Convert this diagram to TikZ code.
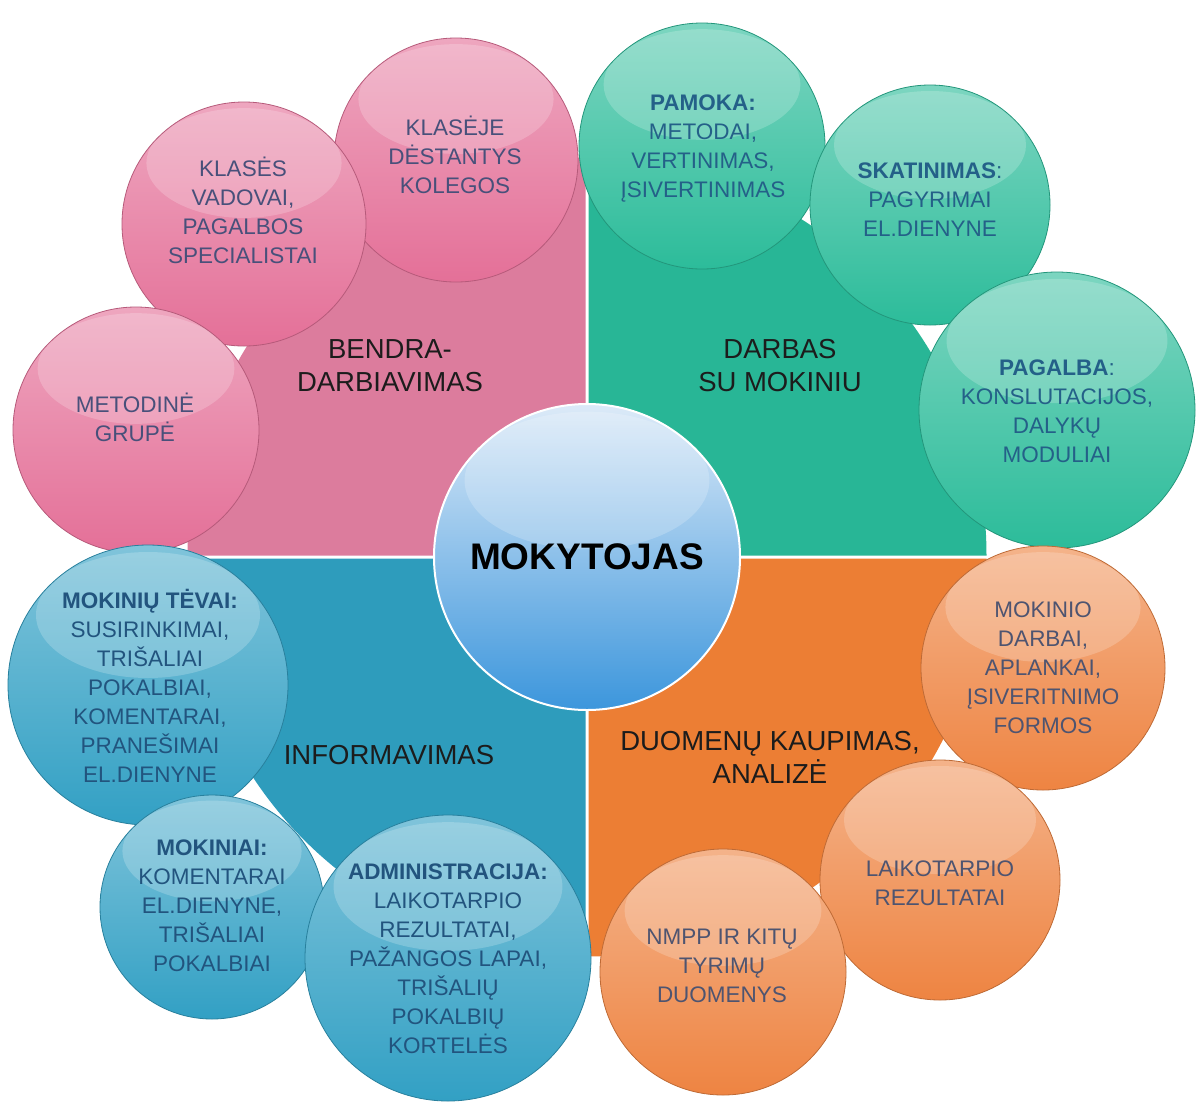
\documentclass[tikz,border=0pt]{standalone}
\usepackage{fontspec}
\setmainfont{Liberation Sans}
\definecolor{pinkq}{RGB}{220,124,157}
\definecolor{greenq}{RGB}{40,182,150}
\definecolor{tealq}{RGB}{46,156,188}
\definecolor{orangeq}{RGB}{236,126,52}
\definecolor{pinkb}{RGB}{228,112,152}
\definecolor{greenb}{RGB}{44,188,154}
\definecolor{tealb}{RGB}{50,160,196}
\definecolor{orangeb}{RGB}{238,132,66}
\definecolor{pinkt}{RGB}{72,80,122}
\definecolor{greent}{RGB}{36,96,136}
\definecolor{tealt}{RGB}{34,84,126}
\definecolor{oranget}{RGB}{78,84,112}
\definecolor{hubtop}{RGB}{220,234,248}
\definecolor{hubmid}{RGB}{112,172,228}
\definecolor{hubbot}{RGB}{60,150,220}
\definecolor{labelc}{RGB}{28,28,28}
\begin{document}
\begin{tikzpicture}[x=1pt, y=-1pt,
  gloss/.style={path picture={\fill[white, fill opacity=0.2]
    ([yshift=-0.5*#1]path picture bounding box.north) ellipse[x radius=0.8*#1, y radius=0.45*#1];}},
  ball/.style 2 args={circle, inner sep=0pt, minimum size=2*#2, draw=#1!80!black, line width=0.8pt,
    top color=#1!62!white, bottom color=#1, gloss=#2},
  txt/.style={align=center, text=#1, font=\fontsize{22.5}{29}\selectfont},
  hub/.style={circle, inner sep=0pt, minimum size=306pt, draw=white, line width=2pt,
    top color=hubtop, middle color=hubmid, bottom color=hubbot, gloss=153pt,
    font=\bfseries\fontsize{37}{40}\selectfont},
  quad/.style={align=center, text=labelc, font=\fontsize{27.5}{33}\selectfont}]
\useasboundingbox[fill=white] (0,0) rectangle (1197,1104);
\fill[pinkq] (585.5,555.5) -- ++(0,-398) arc[start angle=90, end angle=180, radius=398pt] -- cycle;
\fill[greenq] (588.5,555.5) -- ++(398,0) arc[start angle=0, end angle=90, radius=398pt] -- cycle;
\fill[tealq] (585.5,558.5) -- ++(-398,0) arc[start angle=180, end angle=270, radius=398pt] -- cycle;
\fill[orangeq] (588.5,558.5) -- ++(0,398) arc[start angle=270, end angle=360, radius=398pt] -- cycle;
\node[quad] (bendra) at (390,366) {BENDRA-\\DARBIAVIMAS};
\node[quad] (darbas) at (780,366) {DARBAS\\SU MOKINIU};
\node[quad] (inform) at (389,755) {INFORMAVIMAS};
\node[quad] (duomenu) at (770,757) {DUOMENŲ KAUPIMAS,\\ANALIZĖ};
\node[hub] (mokytojas) at (587,557) {MOKYTOJAS};
\node[ball={pinkb}{122pt}] (klaseje) at (456,160) {};
\node[txt=pinkt] (klaseje-t) at (455,155) {KLASĖJE\\DĖSTANTYS\\KOLEGOS};
\node[ball={pinkb}{122pt}] (klases) at (244,224) {};
\node[txt=pinkt] (klases-t) at (243,210) {KLASĖS\\VADOVAI,\\PAGALBOS\\SPECIALISTAI};
\node[ball={pinkb}{123pt}] (metodine) at (136,430) {};
\node[txt=pinkt] (metodine-t) at (135,417) {METODINĖ\\GRUPĖ};
\node[ball={greenb}{123pt}] (pamoka) at (702,146) {};
\node[txt=greent] (pamoka-t) at (703,148) {\textbf{PAMOKA:}\\METODAI,\\VERTINIMAS,\\ĮSIVERTINIMAS};
\node[ball={greenb}{120pt}] (skatinimas) at (930,205) {};
\node[txt=greent] (skatinimas-t) at (930,200) {\textbf{SKATINIMAS}:\\PAGYRIMAI\\EL.DIENYNE};
\node[ball={greenb}{138pt}] (pagalba) at (1057,410) {};
\node[txt=greent] (pagalba-t) at (1057,411) {\textbf{PAGALBA}:\\KONSLUTACIJOS,\\DALYKŲ\\MODULIAI};
\node[ball={orangeb}{122pt}] (darbai) at (1043,668) {};
\node[txt=oranget] (darbai-t) at (1043,668) {MOKINIO\\DARBAI,\\APLANKAI,\\ĮSIVERITNIMO\\FORMOS};
\node[ball={orangeb}{120pt}] (rezultatai) at (940,880) {};
\node[txt=oranget] (rezultatai-t) at (940,883) {LAIKOTARPIO\\REZULTATAI};
\node[ball={orangeb}{123pt}] (nmpp) at (723,972) {};
\node[txt=oranget] (nmpp-t) at (722,966) {NMPP IR KITŲ\\TYRIMŲ\\DUOMENYS};
\node[ball={tealb}{140pt}] (tevai) at (148,685) {};
\node[txt=tealt] (tevai-t) at (150,686) {\textbf{MOKINIŲ TĖVAI:}\\SUSIRINKIMAI,\\TRIŠALIAI\\POKALBIAI,\\KOMENTARAI,\\PRANEŠIMAI\\EL.DIENYNE};
\node[ball={tealb}{112pt}] (mokiniai) at (212,907) {};
\node[txt=tealt] (mokiniai-t) at (212,906) {\textbf{MOKINIAI:}\\KOMENTARAI\\EL.DIENYNE,\\TRIŠALIAI\\POKALBIAI};
\node[ball={tealb}{143pt}] (admin) at (448,958) {};
\node[txt=tealt] (admin-t) at (448,959) {\textbf{ADMINISTRACIJA:}\\LAIKOTARPIO\\REZULTATAI,\\PAŽANGOS LAPAI,\\TRIŠALIŲ\\POKALBIŲ\\KORTELĖS};
\end{tikzpicture}
\end{document}
